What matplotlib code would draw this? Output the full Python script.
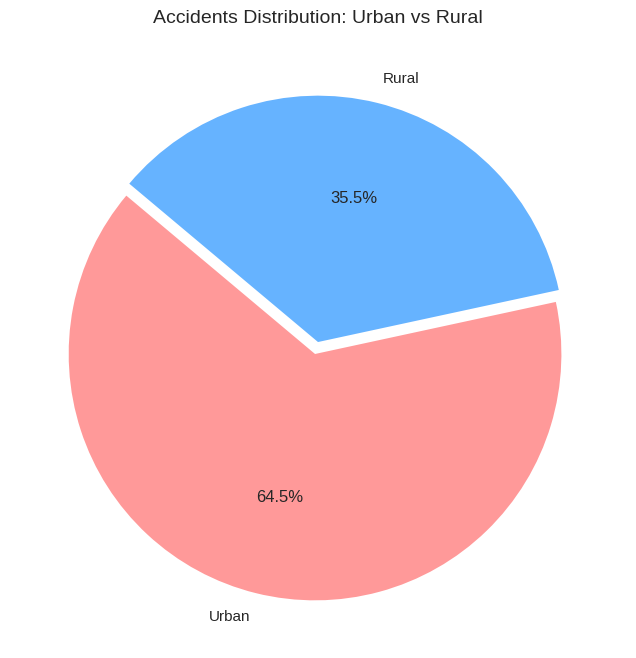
import matplotlib
matplotlib.use("Agg")
import matplotlib.pyplot as plt

# Data
labels = ["Urban", "Rural"]
shares = [64.5, 35.5]
colors = ["#ff9999", "#66b3ff"]
explode = [0.05, 0]

plt.rcParams["font.family"] = ["Liberation Sans", "DejaVu Sans"]
plt.rcParams["text.color"] = "0.15"

fig = plt.figure(figsize=(6.36, 6.58), dpi=100)
ax = fig.add_axes([0.0157, 0.0122, 0.9686, 0.936])
wedges, texts, autotexts = ax.pie(shares, labels=labels, colors=colors, explode=explode,
                                  autopct="%1.1f%%", startangle=140,
                                  textprops={"fontsize": 11, "color": "0.15"})
for t in autotexts:
    t.set_fontsize(12)
ax.set_xlim(-1.25, 1.25)
ax.set_ylim(-1.25, 1.25)
ax.set_aspect("equal")
fig.text(0.5, 0.972, "Accidents Distribution: Urban vs Rural",
         ha="center", va="center", fontsize=14)

fig.savefig("out.png", dpi=100)
